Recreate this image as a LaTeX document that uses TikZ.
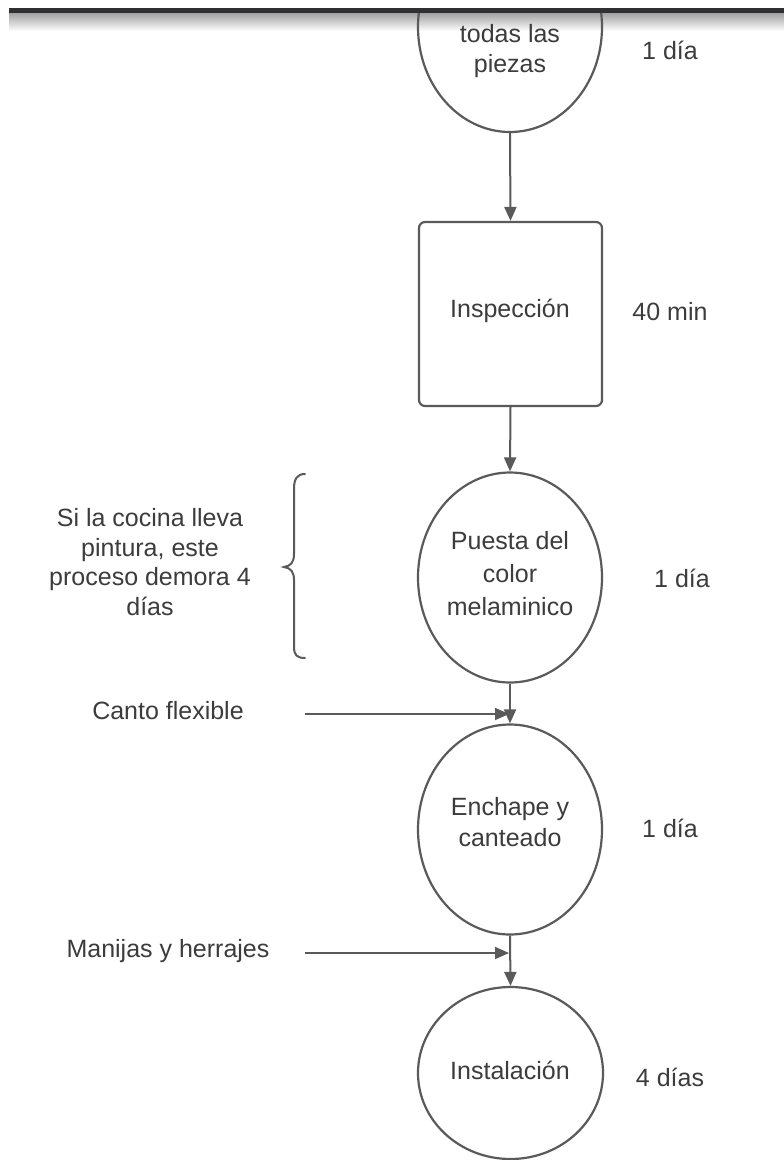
\documentclass[tikz,border=0pt]{standalone}
\usepackage{fontspec}
\setmainfont{Liberation Sans}
\usetikzlibrary{shapes.geometric,arrows.meta}
\definecolor{ln}{HTML}{5A5A5A}
\definecolor{tx}{HTML}{3C3C3C}
\definecolor{bar}{HTML}{2E3033}
\begin{document}
\begin{tikzpicture}[x=1pt,y=-1pt,
  proc/.style={ellipse,draw=ln,line width=2.2pt,minimum width=184pt,minimum height=210pt,inner sep=0pt},
  inspbox/.style={rectangle,rounded corners=6pt,draw=ln,line width=2.2pt,minimum width=183pt,minimum height=184pt,inner sep=0pt},
  lbl/.style={text=tx,font=\fontsize{25}{29.5}\selectfont,align=center,inner sep=0pt},
  flow/.style={draw=ln,line width=2pt,-{Triangle[length=14pt,width=12pt]}},
  feed/.style={draw=ln,line width=1.8pt,-{Triangle[length=14pt,width=12pt]}},
]
\useasboundingbox (0,0) rectangle (784,1160);
\fill[white] (0,0) rectangle (784,1160);

% header strip with its soft shadow
\shade[top color=black!38, bottom color=white] (9,12.5) rectangle (784,31);

% first step, cut off by the header
\begin{scope}
  \clip (0,12) rectangle (784,1160);
  \node[proc] (cut) at (510,27) {};
\end{scope}
\fill[bar] (9,8) rectangle (784,12.8);
\node[lbl] (cuttxt) at (510,51) {todas las\\piezas};
\node[lbl] (d1) at (670,50) {1 día};

% inspection
\node[inspbox] (insp) at (510.5,314) {};
\node[lbl] (insptxt) at (510,311) {Inspección};
\node[lbl] (d2) at (670,312) {40 min};

% colour
\node[proc] (color) at (510,577.5) {};
\node[lbl,font=\fontsize{25}{33}\selectfont] (colortxt) at (510,574) {Puesta del\\color\\melaminico};
\node[lbl] (d3) at (682,578) {1 día};

% note with brace
\node[lbl] (note) at (150,562) {Si la cocina lleva\\pintura, este\\proceso demora 4\\días};
\draw[ln,line width=2pt,line cap=round] (305,474) .. controls (297,474) and (294,479) .. (294,489) -- (294,554)
  .. controls (294,562) and (291,566) .. (284,567)
  .. controls (291,568) and (294,572) .. (294,580) -- (294,647)
  .. controls (294,655) and (297,658) .. (305,658);

% edge banding
\node[proc] (ench) at (510,829.5) {};
\node[lbl,font=\fontsize{25}{31}\selectfont] (enchtxt) at (510,822) {Enchape y\\canteado};
\node[lbl] (d4) at (670,828) {1 día};

% installation
\node[proc,minimum height=172pt,minimum width=185pt] (inst) at (510.5,1073) {};
\node[lbl] (insttxt) at (510,1070) {Instalación};
\node[lbl] (d5) at (670,1077) {4 días};

% external inputs
\node[lbl] (canto) at (168,711) {Canto flexible};
\node[lbl] (mani) at (168,951) {Manijas y herrajes};
\coordinate (c0) at (305,714);
\coordinate (c1) at (509,714);
\coordinate (m0) at (305,953);
\coordinate (m1) at (509,953);

% main flow
\draw[flow] (cut.south) -- (insp.north);
\draw[flow] (insp.south) -- (color.north);
\draw[flow] (color.south) -- (ench.north);
\draw[flow] (ench.south) -- (inst.north);
\draw[feed] (c0) -- (c1);
\draw[feed] (m0) -- (m1);
\end{tikzpicture}
\end{document}
